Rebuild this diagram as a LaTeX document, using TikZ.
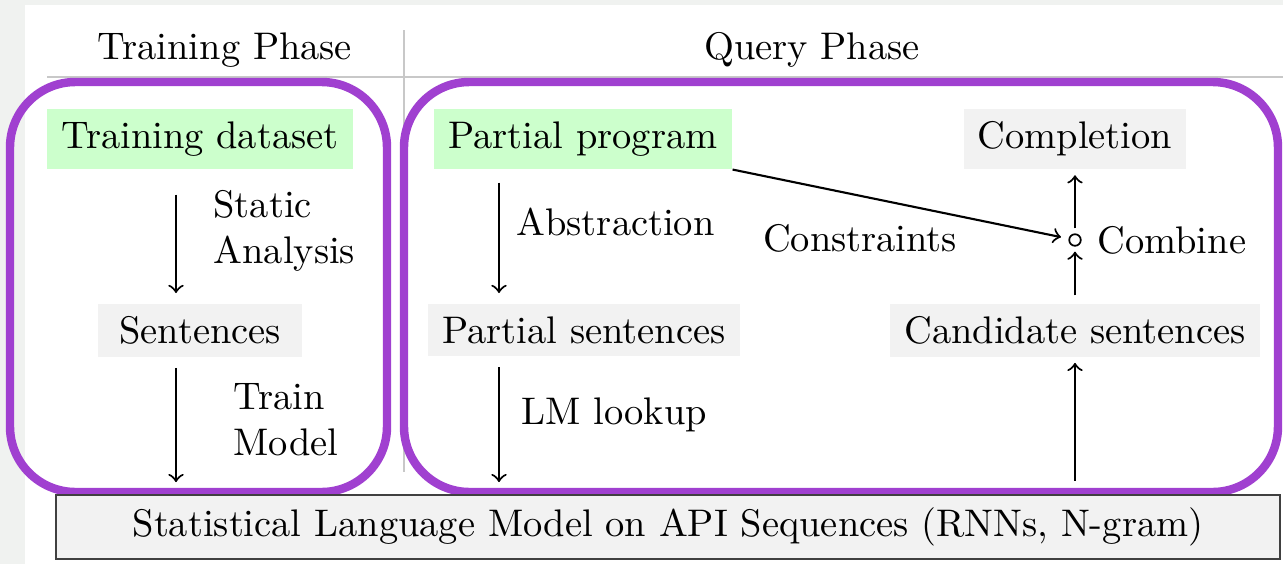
\documentclass[tikz,border=0pt]{standalone}
\usepackage{amsmath}
\usepackage{tikz}
\usetikzlibrary{calc}
\definecolor{boxpurple}{RGB}{160,64,208}
\definecolor{inputgreen}{RGB}{204,255,204}
\definecolor{stepgray}{RGB}{242,242,242}
\definecolor{pagegray}{RGB}{240,242,240}
\definecolor{rulegray}{RGB}{200,200,200}

\begin{document}
\begin{tikzpicture}[x=0.26pt, y=-0.26pt,
  input/.style={fill=inputgreen, inner xsep=3.7pt, inner ysep=3.3pt, anchor=north},
  data/.style={fill=stepgray, inner xsep=3.7pt, inner ysep=3.3pt, anchor=north},
  phase/.style={draw=boxpurple, line width=2.2pt, rounded corners=17pt},
  lbl/.style={align=left, anchor=west},
  flow/.style={->, line width=0.55pt}]

\fill[pagegray] (0,0) rectangle (1283,564);
\fill[white] (25,5) rectangle (1283,564);
\useasboundingbox (0,0) rectangle (1283,564);

% phase headers
\node (trainhead) at (225,50) {Training Phase};
\node (queryhead) at (812,50) {Query Phase};
\draw[rulegray, line width=0.5pt] (47,77) -- (1283,77);
\draw[rulegray, line width=0.5pt] (404,30) -- (404,472);

\draw[phase] (10,82) rectangle (387,492);
\draw[phase] (404,82) rectangle (1278,492);

% nodes
\node[input] (td) at (200,108) {Training dataset};
\node[data, minimum width=52.8pt] (sent) at (200,303) {Sentences};
\node[input] (pp) at (583,108) {Partial program};
\node[data] (psent) at (584,303) {Partial sentences};
\node[data] (compl) at (1075,108) {Completion};
\node[data] (cand) at (1075,303) {Candidate sentences};
\node[draw, circle, inner sep=0pt, minimum size=3pt, line width=0.45pt] (comb) at (1075,240) {};
\node[draw=black!75, fill=stepgray, line width=0.5pt, minimum width=318pt, minimum height=15.6pt] (lm) at (668,527) {Statistical Language Model on API Sequences (RNNs, N-gram)};

% labels
\node[lbl] (sa) at (200,231) {Static\\Analysis};
\node[lbl] (tm) at (220,420) {Train\\Model};
\node[lbl] (abs) at (503,222) {Abstraction};
\node[lbl] (lml) at (508,415) {LM lookup};
\node (cons) at (860,238) {Constraints};
\node[lbl] (combl) at (1084,240) {Combine};

\coordinate (colA) at (176,0);
\coordinate (colB) at (499,0);

% arrows
\draw[flow, shorten <=6.5pt, shorten >=2.6pt] (td.south -| colA) -- (sent.north -| colA);
\draw[flow, shorten <=2.6pt, shorten >=3.1pt] (sent.south -| colA) -- (lm.north -| colA);
\draw[flow, shorten <=3.4pt, shorten >=2.6pt] (pp.south -| colB) -- (psent.north -| colB);
\draw[flow, shorten <=2.6pt, shorten >=3.1pt] (psent.south -| colB) -- (lm.north -| colB);
\draw[flow, shorten <=3.4pt, shorten >=1.3pt] (lm.north -| cand) -- (cand);
\draw[flow, shorten <=2pt, shorten >=1.3pt] (cand) -- (comb);
\draw[flow, shorten <=1.3pt, shorten >=1.5pt] (comb) -- (compl);
\draw[flow, shorten >=2pt] (pp.south east) -- (comb);

\end{tikzpicture}
\end{document}
